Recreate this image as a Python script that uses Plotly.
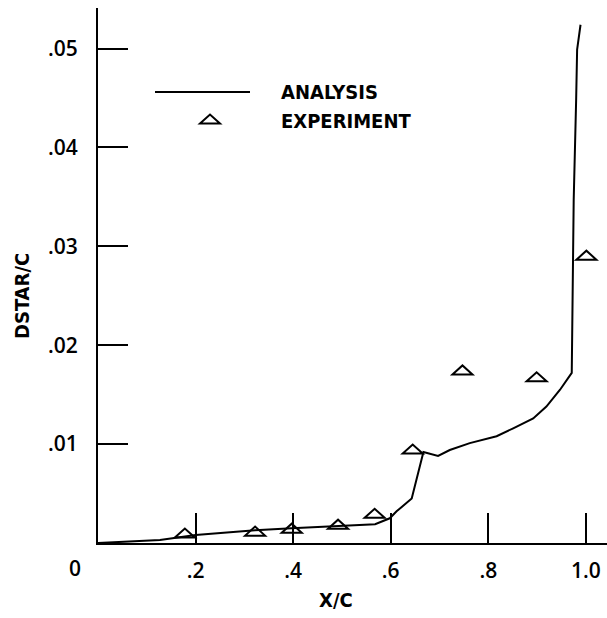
import plotly.graph_objects as go

# Displacement thickness distribution along the chord
analysis_x = [0.0, 0.066, 0.127, 0.200, 0.322, 0.397, 0.492, 0.568, 0.598, 0.612,
              0.643, 0.667, 0.697, 0.721, 0.762, 0.817, 0.851, 0.892, 0.919, 0.947,
              0.971, 0.973, 0.975, 0.980, 0.982, 0.989]
analysis_y = [0.0, 0.00015, 0.0003, 0.0008, 0.0013, 0.0015, 0.0017, 0.0019, 0.0025, 0.0032,
              0.0045, 0.0092, 0.0088, 0.0094, 0.0101, 0.0108, 0.0116, 0.0126, 0.0138, 0.0155,
              0.0172, 0.0246, 0.0347, 0.0448, 0.0499, 0.0524]

experiment_x = [0.178, 0.322, 0.397, 0.492, 0.567, 0.645, 0.747, 0.899, 1.001]
experiment_y = [0.0010, 0.0012, 0.0015, 0.0019, 0.0030, 0.0095, 0.0175, 0.0168, 0.0291]

x_ticks = [0.2, 0.4, 0.6, 0.8, 1.0]
x_tick_text = [".2", ".4", ".6", ".8", "1.0"]
y_ticks = [0.01, 0.02, 0.03, 0.04, 0.05]
y_tick_text = [".01", ".02", ".03", ".04", ".05"]

W, H = 607, 618
ML, MR, MT, MB = 98, 0, 8, 75
PW, PH = W - ML - MR, H - MT - MB

TICK_FONT = dict(family="Open Sans, DejaVu Sans, sans-serif", size=21, color="black",
                 weight=600)
LABEL_FONT = dict(family="DejaVu Sans Condensed, DejaVu Sans, sans-serif",
                  size=20, color="black", weight="bold")


def paper_x(px):
    return (px - ML) / PW


def paper_y(py):
    return (H - MB - py) / PH


# flat open triangle, apex up, in pixels around its anchor point
TRI_PATH = "M -10,-4.5 L 10,-4.5 L 0,4.5 Z"

fig = go.Figure()

fig.add_trace(go.Scatter(
    x=analysis_x, y=analysis_y, mode="lines",
    line=dict(color="black", width=2), name="ANALYSIS", showlegend=False,
))
fig.add_trace(go.Scatter(
    x=experiment_x, y=experiment_y, mode="markers",
    marker=dict(size=14, color="rgba(0,0,0,0)"), name="EXPERIMENT", showlegend=False,
))

shapes = []
for xv, yv in zip(experiment_x, experiment_y):
    shapes.append(dict(
        type="path", xref="x", yref="y", xsizemode="pixel", ysizemode="pixel",
        xanchor=xv, yanchor=yv, path=TRI_PATH,
        line=dict(color="black", width=2), fillcolor="rgba(0,0,0,0)", layer="above",
    ))

# legend keys
shapes.append(dict(
    type="line", xref="paper", yref="paper",
    x0=paper_x(155), x1=paper_x(250), y0=paper_y(92), y1=paper_y(92),
    line=dict(color="black", width=2),
))
shapes.append(dict(
    type="path", xref="paper", yref="paper", xsizemode="pixel", ysizemode="pixel",
    xanchor=paper_x(210), yanchor=paper_y(119), path=TRI_PATH,
    line=dict(color="black", width=2), fillcolor="rgba(0,0,0,0)",
))

annotations = [
    dict(text="ANALYSIS", xref="paper", yref="paper", x=paper_x(279), y=paper_y(92),
         xanchor="left", yanchor="middle", showarrow=False, font=LABEL_FONT),
    dict(text="EXPERIMENT", xref="paper", yref="paper", x=paper_x(279), y=paper_y(121),
         xanchor="left", yanchor="middle", showarrow=False, font=LABEL_FONT),
    dict(text="X/C", xref="paper", yref="paper", x=paper_x(336), y=paper_y(600),
         xanchor="center", yanchor="middle", showarrow=False, font=LABEL_FONT),
    dict(text="DSTAR/C", xref="paper", yref="paper", x=paper_x(22), y=paper_y(296),
         xanchor="center", yanchor="middle", showarrow=False, font=LABEL_FONT,
         textangle=-90),
    dict(text="0", xref="paper", yref="paper", x=paper_x(83), y=paper_y(568),
         xanchor="right", yanchor="middle", showarrow=False, font=TICK_FONT),
]

fig.update_layout(
    width=W, height=H,
    margin=dict(l=ML, r=MR, t=MT, b=MB),
    paper_bgcolor="white", plot_bgcolor="white",
    shapes=shapes, annotations=annotations,
    xaxis=dict(
        range=[0, PW / 487.9], showgrid=False, zeroline=False,
        showline=True, linecolor="black", linewidth=2,
        ticks="inside", ticklen=30, tickwidth=2, tickcolor="black",
        tickvals=x_ticks, ticktext=x_tick_text, tickfont=TICK_FONT,
        ticklabelstandoff=8,
    ),
    yaxis=dict(
        range=[0, PH / 9890.0], showgrid=False, zeroline=False,
        showline=True, linecolor="black", linewidth=2,
        ticks="inside", ticklen=30, tickwidth=2, tickcolor="black",
        tickvals=y_ticks, ticktext=y_tick_text, tickfont=TICK_FONT,
        ticklabelstandoff=14,
    ),
)

fig.write_html("out.html")
